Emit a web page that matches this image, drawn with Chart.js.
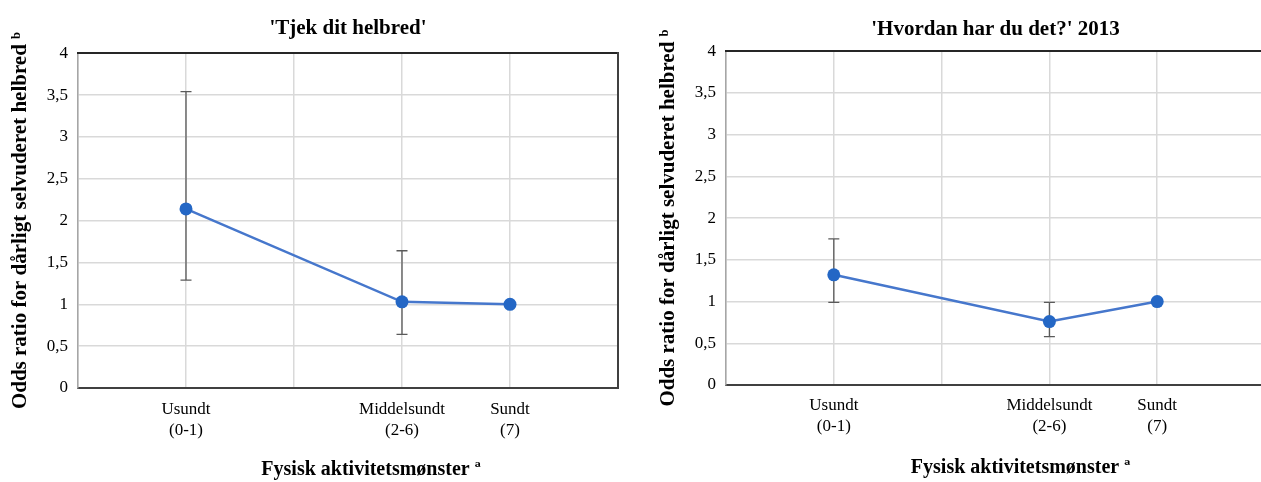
<!DOCTYPE html>
<html>
<head>
<meta charset="utf-8">
<script src="https://cdn.jsdelivr.net/npm/chart.js@4.4.1/dist/chart.umd.min.js"></script>
<style>
  html, body { margin: 0; padding: 0; background: #fff; overflow: hidden; }
  #wrap { position: relative; width: 1261px; height: 482px; overflow: hidden; }
  #left { position: absolute; left: 0; top: 0; width: 640px; height: 482px; }
  #right { position: absolute; left: 640px; top: 0; width: 640px; height: 482px; }
</style>
</head>
<body>
<div id="wrap">
  <div id="left"><canvas id="chart-tjek"></canvas></div>
  <div id="right"><canvas id="chart-hvordan"></canvas></div>
</div>
<script>
// groups on the x axis and where they sit on it (0..5)
const groupNames = [['Usundt', '(0-1)'], ['Middelsundt', '(2-6)'], ['Sundt', '(7)']];
const groupPos = [1, 3, 4];
const xTicks = [0, 1, 2, 3, 4, 5];
const yTicks = [0, 0.5, 1, 1.5, 2, 2.5, 3, 3.5, 4];

// 'Tjek dit helbred'
const tjekOdds = [2.14, 1.03, 1.0];
const tjekLower = [1.29, 0.64, null];
const tjekUpper = [3.54, 1.64, null];

// 'Hvordan har du det?' 2013
const hvordanOdds = [1.32, 0.76, 1.0];
const hvordanLower = [0.99, 0.58, null];
const hvordanUpper = [1.75, 0.99, null];

const serif = '"Liberation Serif", "Times New Roman", "DejaVu Serif", serif';

// x axis title, drawn a bit right of the plot centre like in the original
const xTitlePlugin = {
    id: 'xTitle',
    afterDraw(chart, args, opts) {
        const area = chart.chartArea;
        const ctx = chart.ctx;
        ctx.save();
        ctx.font = 'bold 20px ' + serif;
        ctx.fillStyle = '#000';
        ctx.textAlign = 'center';
        ctx.textBaseline = 'middle';
        ctx.fillText(opts.text, (area.left + area.right) / 2 + opts.shift, opts.y);
        ctx.restore();
    }
};

function makeChart(id, title, odds, lower, upper, opt) {
    let datasets = [{
        label: 'Odds ratio',
        data: odds.map((v, i) => ({ x: groupPos[i], y: v })),
        borderColor: '#4677CC',
        backgroundColor: '#2467C5',
        borderWidth: 2.5,
        pointRadius: 6.5,
        pointBackgroundColor: '#2467C5',
        pointBorderWidth: 0,
        order: 0
    }];
    lower.forEach((lo, i) => {
        if (lo === null) return;
        datasets.push({
            label: 'CI',
            data: [{ x: groupPos[i], y: lo }, { x: groupPos[i], y: upper[i] }],
            borderColor: '#5a5a5a',
            borderWidth: 1.3,
            pointStyle: 'line',
            pointRadius: 5.5,
            pointBorderColor: '#5a5a5a',
            pointBorderWidth: 1.3,
            order: 1
        });
    });

    return new Chart(document.getElementById(id), {
        type: 'line',
        data: { datasets: datasets },
        plugins: [xTitlePlugin],
        options: {
            responsive: true,
            maintainAspectRatio: false,
            animation: false,
            layout: { padding: { left: 0, right: opt.padRight, top: 0, bottom: 0 } },
            plugins: {
                legend: { display: false },
                tooltip: { enabled: false },
                title: {
                    display: true,
                    text: title,
                    fullSize: false,
                    color: '#000',
                    font: { family: serif, size: 21, weight: 'bold' },
                    padding: { top: opt.titleTop, bottom: opt.titleBottom }
                },
                xTitle: { text: 'Fysisk aktivitetsmønster ª', shift: opt.xTitleShift, y: opt.xTitleY }
            },
            scales: {
                x: {
                    type: 'linear',
                    min: 0,
                    max: 5,
                    afterBuildTicks: s => { s.ticks = xTicks.map(v => ({ value: v })); },
                    ticks: {
                        autoSkip: false,
                        maxRotation: 0,
                        padding: opt.xTickPad,
                        color: '#000',
                        font: { family: serif, size: 17, lineHeight: 1.25 },
                        callback: v => {
                            let i = groupPos.indexOf(v);
                            return i < 0 ? '' : groupNames[i];
                        }
                    },
                    grid: { color: '#d9d9d9', lineWidth: 1.5, drawTicks: false },
                    border: { color: '#404040', width: 2 },
                    afterFit: s => { s.height = opt.xHeight; }
                },
                y: {
                    min: 0,
                    max: 4,
                    afterBuildTicks: s => { s.ticks = yTicks.map(v => ({ value: v })); },
                    ticks: {
                        padding: 10,
                        color: '#000',
                        font: { family: serif, size: 17 },
                        callback: v => String(v).replace('.', ',')
                    },
                    grid: { color: '#d9d9d9', lineWidth: 1.5, drawTicks: false },
                    border: { color: '#a6a6a6', width: 1.5 },
                    title: {
                        display: true,
                        text: 'Odds ratio for dårligt selvuderet helbred ᵇ',
                        color: '#000',
                        font: { family: serif, size: 21, weight: 'bold' },
                        padding: { top: opt.yTitlePad, bottom: 0 }
                    },
                    afterFit: s => { s.width = opt.yWidth; }
                },
                xTop: {
                    type: 'linear',
                    position: 'top',
                    display: true,
                    grid: { display: false, drawTicks: false },
                    ticks: { display: false },
                    border: { color: '#262626', width: 2 },
                    afterFit: s => { s.height = 0; }
                },
                yRight: {
                    type: 'linear',
                    position: 'right',
                    display: true,
                    grid: { display: false, drawTicks: false },
                    ticks: { display: false },
                    border: { color: '#404040', width: 2 },
                    afterFit: s => { s.width = 0; }
                }
            }
        }
    });
}

makeChart('chart-tjek', "'Tjek dit helbred'", tjekOdds, tjekLower, tjekUpper, {
    padRight: 22, titleTop: 16, titleBottom: 12, xHeight: 94, xTickPad: 11,
    yWidth: 78, yTitlePad: 8, xTitleShift: 23, xTitleY: 470
});

makeChart('chart-hvordan', "'Hvordan har du det?' 2013", hvordanOdds, hvordanLower, hvordanUpper, {
    padRight: 15, titleTop: 17, titleBottom: 9, xHeight: 97, xTickPad: 10,
    yWidth: 86, yTitlePad: 16, xTitleShift: 25, xTitleY: 468
});
</script>
</body>
</html>
